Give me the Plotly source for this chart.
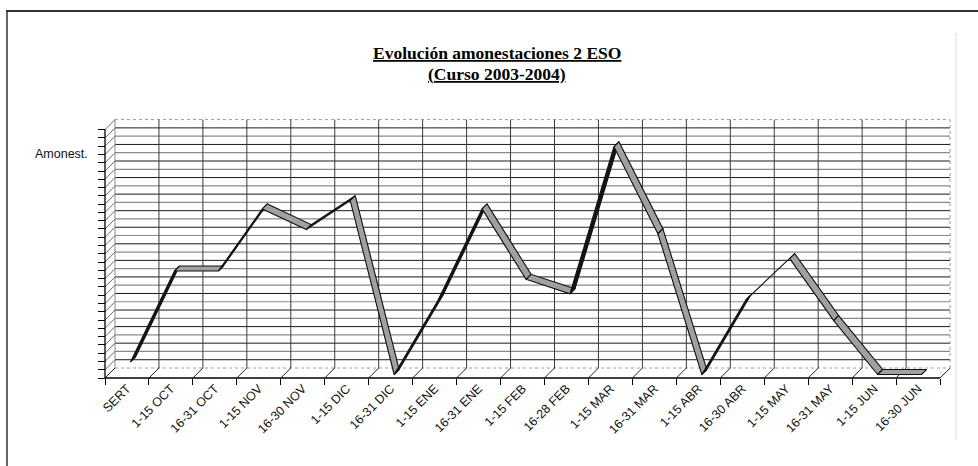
import plotly.graph_objects as go

# ---- data -----------------------------------------------------------------
categories = ["SERT", "1-15 OCT", "16-31 OCT", "1-15 NOV", "16-30 NOV",
              "1-15 DIC", "16-31 DIC", "1-15 ENE", "16-31 ENE", "1-15 FEB",
              "16-28 FEB", "1-15 MAR", "16-31 MAR", "1-15 ABR", "16-30 ABR",
              "1-15 MAY", "16-31 MAY", "1-15 JUN", "16-30 JUN"]
amonestaciones = [1.5, 12.5, 12.5, 20, 17.5, 21, 0, 9, 20, 11.5,
                  9.75, 27.5, 17, 0, 9, 14, 6.5, 0, 0]
value_ticks = list(range(0, 31))

# ---- page geometry (pixels) -------------------------------------------------
W, H = 978, 466
ML, MR, MT, MB = 100, 22, 117, 86
X0_PX, UNIT_X = 105.0, 43.95      # pixel of category boundary 0, px per category
Y0_PX, UNIT_Y = 378.0, 8.28       # pixel of value 0, px per value unit

plot_w = W - ML - MR
plot_h = H - MT - MB
x_lo = (ML - X0_PX) / UNIT_X
x_hi = x_lo + plot_w / UNIT_X
y_lo = -((H - MB) - Y0_PX) / UNIT_Y
y_hi = y_lo + plot_h / UNIT_Y


def px_x(p):
    return (p - ML) / plot_w


def px_y(p):
    return ((H - MB) - p) / plot_h


n = len(categories)
bounds = list(range(n + 1))
centers = [i + 0.5 for i in range(n)]
top = value_ticks[-1]
DX, DY = 10 / UNIT_X, 10 / UNIT_Y      # full depth of the 3-D box
RIB_F, RIB_B = 0.35, 0.85             # ribbon front / back depth fraction

fig = go.Figure()


def add_lines(segments, color, width=1.0, dash=None):
    xs, ys = [], []
    for (xa, ya), (xb, yb) in segments:
        xs += [xa, xb, None]
        ys += [ya, yb, None]
    fig.add_trace(go.Scatter(x=xs, y=ys, mode="lines",
                             line=dict(color=color, width=width, dash=dash),
                             hoverinfo="skip", showlegend=False))


# back wall horizontal gridlines (alternating tone)
dark, light = [], []
for k in value_ticks[1:-1]:
    seg = ((DX, k + DY), (n + DX, k + DY))
    (dark if k % 2 else light).append(seg)
add_lines(light, "#8a8a8a", 1.2)
add_lines(dark, "#1a1a1a", 1.0)

# back wall outline: bottom, top, right edge dotted; left back edge grey
add_lines([((DX, DY), (n + DX, DY)),
           ((DX, top + DY), (n + DX, top + DY)),
           ((n + DX, DY), (n + DX, top + DY))], "#9a9a9a", 1.0, "dot")
add_lines([((DX, DY), (DX, top + DY))], "#8a8a8a", 1.0)

# back wall vertical gridlines at category boundaries
add_lines([((b + DX, DY), (b + DX, top + DY)) for b in bounds[1:-1]],
          "#3a3a3a", 1.0)

# side wall hatching and floor diagonals
add_lines([((0, k), (DX, k + DY)) for k in value_ticks], "#6a6a6a", 1.0)
add_lines([((b, 0), (b + DX, DY)) for b in bounds], "#222222", 1.0)

# front axis lines
add_lines([((0, 0), (n, 0)), ((0, 0), (0, top))], "#000000", 1.3)

# 3-D ribbon for the series
for i in range(n - 1):
    xa, xb = centers[i], centers[i + 1]
    va, vb = amonestaciones[i], amonestaciones[i + 1]
    poly_x = [xa + RIB_F * DX, xb + RIB_F * DX, xb + RIB_B * DX, xa + RIB_B * DX,
              xa + RIB_F * DX]
    poly_y = [va + RIB_F * DY, vb + RIB_F * DY, vb + RIB_B * DY, va + RIB_B * DY,
              va + RIB_F * DY]
    face = "#151515" if vb > va else "#a0a0a0"
    fig.add_trace(go.Scatter(x=poly_x, y=poly_y, mode="lines", fill="toself",
                             fillcolor=face,
                             line=dict(color="#111111", width=1.1),
                             hoverinfo="skip", showlegend=False))

fig.update_layout(
    width=W, height=H,
    margin=dict(l=ML, r=MR, t=MT, b=MB, autoexpand=False),
    paper_bgcolor="white", plot_bgcolor="white",
    showlegend=False,
    xaxis=dict(range=[x_lo, x_hi], showgrid=False, zeroline=False,
               showline=False, anchor="free",
               position=(0 - y_lo) / (y_hi - y_lo),
               tickmode="array", tickvals=centers, ticktext=categories,
               tickangle=-45, ticks="", ticklen=0,
               tickfont=dict(family="Liberation Sans, Arial", size=12.5,
                             color="#111111"),
               minor=dict(tickmode="array", tickvals=bounds, ticks="outside",
                          ticklen=6, tickcolor="#000000", tickwidth=1,
                          showgrid=False),
               automargin=False, fixedrange=True),
    yaxis=dict(range=[y_lo, y_hi], showgrid=False, zeroline=False,
               showline=False, anchor="free",
               position=(0 - x_lo) / (x_hi - x_lo),
               tickmode="array", tickvals=value_ticks, ticks="outside",
               ticklen=7, tickcolor="#000000", tickwidth=1,
               showticklabels=False, automargin=False, fixedrange=True),
)

# titles
title_font = dict(family="Liberation Serif, Times New Roman", size=17.5,
                  color="#000000")
fig.add_annotation(text="<b><u>Evolución amonestaciones 2 ESO</u></b>",
                   xref="paper", yref="paper", x=px_x(497), y=px_y(53),
                   xanchor="center", yanchor="middle", showarrow=False,
                   font=title_font)
fig.add_annotation(text="<b><u>(Curso 2003-2004)</u></b>",
                   xref="paper", yref="paper", x=px_x(497), y=px_y(74),
                   xanchor="center", yanchor="middle", showarrow=False,
                   font=title_font)

# series-axis label
fig.add_annotation(text="Amonest.", xref="paper", yref="y",
                   x=px_x(90), y=27, xanchor="right", yanchor="middle",
                   showarrow=False,
                   font=dict(family="Liberation Sans, Arial", size=12.5,
                             color="#111111"))

# outer frame of the chart object
fig.add_shape(type="line", xref="paper", yref="paper",
              x0=px_x(6), x1=px_x(W), y0=px_y(11), y1=px_y(11),
              line=dict(color="#333333", width=2))
fig.add_shape(type="line", xref="paper", yref="paper",
              x0=px_x(7), x1=px_x(7), y0=px_y(11), y1=px_y(H),
              line=dict(color="#333333", width=1.5))
fig.add_shape(type="line", xref="paper", yref="paper",
              x0=px_x(956), x1=px_x(956), y0=px_y(33), y1=px_y(440),
              line=dict(color="#dddddd", width=1))

fig.write_html("out.html", config={"displayModeBar": False})
